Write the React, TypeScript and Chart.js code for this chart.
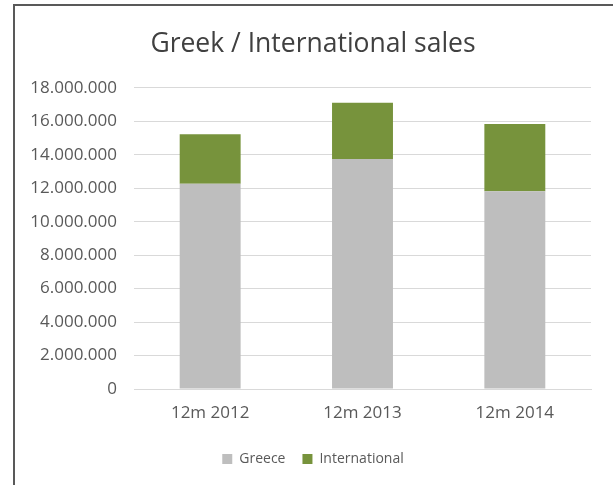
import { useEffect, useRef } from "react";
import { Chart, registerables } from "chart.js";
Chart.register(...registerables);

const categories = ["12m 2012", "12m 2013", "12m 2014"];
const greece = [12260000, 13740000, 11820000];
const international = [2970000, 3360000, 4010000];
const yMin = 0;
const yMax = 18000000;
const yStep = 2000000;

const FONT = "'Open Sans', 'Noto Sans', sans-serif";

function fmt(v: number): string {
  return String(Math.round(v)).replace(/\B(?=(\d{3})+(?!\d))/g, ".");
}

export default function App() {
  const ref = useRef<HTMLCanvasElement | null>(null);
  useEffect(() => {
    if (!ref.current) return;
    const chart = new Chart(ref.current, {
      type: "bar",
      data: {
        labels: categories,
        datasets: [
          { label: "Greece", data: greece, backgroundColor: "#BEBEBE", barPercentage: 0.4, categoryPercentage: 1 },
          { label: "International", data: international, backgroundColor: "#77933C", barPercentage: 0.4, categoryPercentage: 1 },
        ],
      },
      options: {
        animation: false,
        responsive: true,
        maintainAspectRatio: false,
        layout: { padding: { left: 26, right: 13, top: 0, bottom: 9 } },
        plugins: {
          title: {
            display: true,
            text: "Greek / International sales",
            color: "#404040",
            font: { family: FONT, size: 26.5, weight: "normal" },
            padding: { top: 29, bottom: 27 },
          },
          legend: {
            position: "bottom",
            labels: {
              boxWidth: 10,
              boxHeight: 10,
              padding: 17,
              color: "#595959",
              font: { family: FONT, size: 14 },
            },
          },
          tooltip: { enabled: false },
        },
        scales: {
          x: {
            stacked: true,
            grid: { display: false },
            border: { display: true, color: "#D9D9D9", width: 1 },
            ticks: { color: "#595959", font: { family: FONT, size: 17 }, padding: 6 },
            afterFit: (s: any) => { s.height = 46; },
          },
          y: {
            stacked: true,
            min: yMin,
            max: yMax,
            grid: { color: "#D9D9D9", lineWidth: 1, drawTicks: false },
            border: { display: false },
            ticks: {
              stepSize: yStep,
              color: "#595959",
              font: { family: FONT, size: 17 },
              padding: 17,
              callback: (v: any) => fmt(Number(v)),
            },
            afterFit: (s: any) => { s.width = 108; },
          },
          yRight: {
            position: "right",
            display: true,
            grid: { display: false, drawTicks: false },
            border: { display: false },
            ticks: { display: false },
            afterFit: (s: any) => { s.width = 9; },
          },
        },
      },
    });
    return () => chart.destroy();
  }, []);
  return (
    <div style={{ position: "fixed", left: 0, top: 0, width: 613, height: 485, overflow: "hidden", background: "#fff" }}>
      <div style={{ position: "absolute", left: 13, top: 4, width: 700, height: 600, borderLeft: "2px solid #595959", borderTop: "2px solid #595959" }} />
      <div style={{ position: "absolute", left: 0, top: 0, width: 613, height: 485 }}>
        <canvas ref={ref} />
      </div>
    </div>
  );
}
